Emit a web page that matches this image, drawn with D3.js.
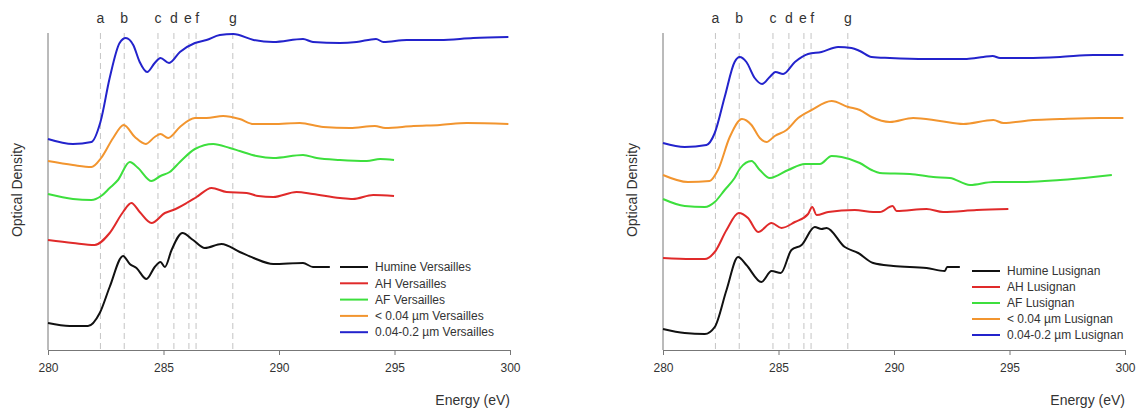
<!DOCTYPE html>
<meta charset="utf-8">
<style>
body { margin: 0; background: #fff; }
svg { display: block; font-family: "Liberation Sans", Arial, sans-serif; }
.axis path, .axis line { stroke: #777; }
.axis text { fill: #333; font-size: 12px; }
.peaks line { stroke: #c4c4c4; stroke-dasharray: 6,4; stroke-width: 1; }
.peaks text { fill: #333; font-size: 14px; text-anchor: middle; }
.curves path { fill: none; stroke-width: 2; stroke-linejoin: round; }
.legend text { fill: #333; font-size: 12px; }
.label { fill: #333; font-size: 14px; }
</style>

<svg id="chart" width="1136" height="410"></svg>

<script src="https://d3js.org/d3.v7.min.js"></script>
<script>
// peak positions (eV) and their letters
var peakLetters = ["a", "b", "c", "d", "e", "f", "g"];
var peakEnergies = [282.27, 283.3, 284.76, 285.45, 286.1, 286.41, 288.0];
var xTicks = [280, 285, 290, 295, 300];

var seriesColors = ["#111111", "#e02a2a", "#3ddf3d", "#f2952f", "#2323cc"];
var versaillesNames = ["Humine Versailles", "AH Versailles", "AF Versailles", "< 0.04 \u00b5m Versailles", "0.04-0.2 \u00b5m Versailles"];
var lusignanNames = ["Humine Lusignan", "AH Lusignan", "AF Lusignan", "< 0.04 \u00b5m Lusignan", "0.04-0.2 \u00b5m Lusignan"];

// [energy eV, optical density (arbitrary, stacked)]
var versHumine = [[280,0.27],[280.94,0.24],[281.73,0.24],[282.24,0.37],[282.67,0.63],[283.25,0.94],[283.54,0.86],
  [283.83,0.82],[284.26,0.71],[284.62,0.83],[284.87,0.88],[285.06,0.83],[285.35,1.0],[285.82,1.17],[286.28,1.1],
  [286.79,1.02],[287.51,1.06],[288.3,0.98],[288.9,0.92],[289.75,0.86],[291.04,0.87],[291.47,0.83],[292.2,0.83]];
var versAH = [[280,1.1],[281.08,1.07],[282.02,1.05],[282.67,1.17],[283.25,1.38],[283.61,1.47],[283.97,1.38],
  [284.48,1.27],[285.06,1.37],[285.42,1.4],[286.0,1.47],[286.43,1.53],[287.08,1.62],[287.73,1.58],[288.6,1.57],
  [289.1,1.54],[289.75,1.53],[290.76,1.58],[291.47,1.56],[292.64,1.52],[293.2,1.51],[294.08,1.55],[294.98,1.54]];
var versAF = [[280,1.56],[281.08,1.51],[281.88,1.5],[282.3,1.54],[282.67,1.62],[283.03,1.7],[283.54,1.88],
  [283.9,1.82],[284.48,1.69],[284.87,1.74],[285.27,1.78],[285.71,1.88],[286.36,2.01],[287.15,2.06],[287.87,2.02],
  [288.3,1.99],[289.03,1.94],[289.75,1.92],[291.04,1.95],[291.63,1.92],[292.64,1.9],[293.8,1.89],[294.38,1.91],[294.98,1.9]];
var versSmall = [[280,1.89],[281.08,1.85],[281.88,1.83],[282.3,1.92],[282.82,2.12],[283.28,2.25],[283.76,2.13],
  [284.23,2.06],[284.62,2.13],[284.87,2.16],[285.2,2.12],[285.71,2.23],[286.36,2.32],[286.86,2.32],[287.58,2.34],
  [288.3,2.31],[288.9,2.26],[289.75,2.26],[290.9,2.27],[291.91,2.23],[293.07,2.22],[294.15,2.24],[294.6,2.22],
  [295.82,2.24],[296.97,2.25],[298.13,2.27],[299.93,2.26]];
var versLarge = [[280,2.11],[281.08,2.06],[281.88,2.08],[282.27,2.28],[282.67,2.72],[283.1,3.07],[283.37,3.12],
  [283.69,3.05],[283.97,2.88],[284.29,2.78],[284.62,2.87],[284.87,2.92],[285.24,2.87],[285.71,2.98],[286.36,3.07],
  [286.86,3.1],[287.44,3.15],[288.02,3.16],[288.9,3.1],[289.75,3.08],[291.04,3.11],[291.47,3.08],[292.64,3.07],
  [293.36,3.08],[294.2,3.11],[294.52,3.08],[295.53,3.1],[296.97,3.1],[298.41,3.12],[299.93,3.13]];

var lusHumine = [[280,0.21],[280.94,0.17],[281.81,0.16],[282.24,0.23],[282.75,0.6],[283.25,0.93],[283.61,0.85],
  [284.26,0.68],[284.7,0.79],[285.1,0.77],[285.56,1.0],[286.0,1.05],[286.57,1.23],[286.86,1.21],[287.08,1.22],
  [287.87,1.03],[288.45,0.97],[289.1,0.87],[289.97,0.84],[291.41,0.82],[292.2,0.79],[292.3,0.83],[292.85,0.83]];
var lusAH = [[280,0.92],[281.23,0.91],[281.81,0.91],[282.24,0.98],[282.75,1.2],[283.28,1.37],[283.68,1.32],
  [284.12,1.18],[284.7,1.27],[285.13,1.22],[285.71,1.28],[286.28,1.36],[286.46,1.43],[286.65,1.35],[287.15,1.38],
  [288.3,1.4],[289.1,1.38],[289.39,1.38],[289.94,1.44],[290.11,1.39],[291.41,1.41],[292.13,1.38],[293.58,1.4],[294.95,1.41]];
var lusAF = [[280,1.51],[280.94,1.44],[281.81,1.43],[282.24,1.48],[282.67,1.6],[283.1,1.72],[283.35,1.82],
  [283.83,1.89],[284.19,1.8],[284.62,1.72],[285.42,1.8],[286.14,1.86],[286.79,1.86],[287.3,1.94],[287.73,1.93],
  [288.52,1.87],[289.03,1.8],[289.39,1.77],[290.69,1.76],[291.7,1.73],[292.42,1.72],[293.29,1.65],[294.3,1.68],
  [295.75,1.68],[297.19,1.7],[298.63,1.73],[299.43,1.75]];
var lusSmall = [[280,1.75],[281.08,1.68],[282.02,1.69],[282.38,1.8],[282.89,2.13],[283.42,2.31],[283.83,2.25],
  [284.19,2.12],[284.48,2.08],[284.84,2.14],[285.35,2.2],[285.85,2.32],[286.43,2.4],[287.3,2.49],[288.02,2.43],
  [288.52,2.4],[289.03,2.33],[289.82,2.28],[290.83,2.32],[291.99,2.29],[293.0,2.26],[294.3,2.3],[294.73,2.27],
  [296.03,2.3],[297.19,2.31],[298.92,2.32],[299.93,2.32]];
var lusLarge = [[280,2.07],[280.94,2.03],[281.88,2.05],[282.24,2.17],[282.67,2.53],[283.1,2.88],[283.32,2.93],
  [283.61,2.88],[283.97,2.72],[284.29,2.66],[284.62,2.73],[284.87,2.78],[285.2,2.76],[285.71,2.88],[286.28,2.96],
  [286.86,2.98],[287.58,3.03],[288.16,3.02],[288.52,2.99],[289.03,2.93],[289.82,2.92],[291.41,2.91],[293.15,2.91],
  [293.87,2.93],[294.27,2.94],[294.59,2.92],[295.75,2.92],[297.19,2.93],[298.63,2.95],[299.93,2.95]];

var svg = d3.select("#chart");

function drawPanel(left, series, names, legendX, legendY, legendStep) {
    var top = 33, bottom = 350, width = 462;

    var x = d3.scaleLinear().domain([280, 300]).range([left, left + width]);
    var y = d3.scaleLinear().domain([0, 3.17]).range([bottom, top]);

    var g = svg.append("g");

    // dashed peak markers
    var peaks = g.append("g").attr("class", "peaks");
    peaks.selectAll("line")
        .data(peakEnergies)
        .enter().append("line")
        .attr("x1", function(d) { return x(d); })
        .attr("x2", function(d) { return x(d); })
        .attr("y1", top)
        .attr("y2", bottom);
    peaks.selectAll("text")
        .data(peakEnergies)
        .enter().append("text")
        .attr("x", function(d, i) { return x(d) + (i == 4 ? -1 : i == 5 ? 1 : 0); })
        .attr("y", 23)
        .text(function(d, i) { return peakLetters[i]; });

    // y axis: plain line, no ticks
    g.append("line")
        .attr("x1", left).attr("x2", left)
        .attr("y1", top).attr("y2", bottom)
        .attr("stroke", "#777");

    g.append("g")
        .attr("class", "axis")
        .attr("transform", "translate(0," + bottom + ")")
        .call(d3.axisBottom(x).tickValues(xTicks).tickSizeOuter(0).tickSize(5).tickPadding(8));

    var line = d3.line()
        .x(function(d) { return x(d[0]); })
        .y(function(d) { return y(d[1]); })
        .curve(d3.curveMonotoneX);

    g.append("g")
        .attr("class", "curves")
        .selectAll("path")
        .data(series)
        .enter().append("path")
        .attr("d", line)
        .attr("stroke", function(d, i) { return seriesColors[i]; });

    var legend = g.append("g").attr("class", "legend")
        .selectAll("g")
        .data(names)
        .enter().append("g")
        .attr("transform", function(d, i) { return "translate(" + legendX + "," + (legendY + i * legendStep) + ")"; });
    legend.append("line")
        .attr("x1", 0).attr("x2", 28)
        .attr("stroke", function(d, i) { return seriesColors[i]; })
        .attr("stroke-width", 2);
    legend.append("text")
        .attr("x", 35)
        .attr("dy", "0.35em")
        .text(function(d) { return d; });

    g.append("text")
        .attr("class", "label")
        .attr("x", left + width)
        .attr("y", 405)
        .attr("text-anchor", "end")
        .text("Energy (eV)");

    g.append("text")
        .attr("class", "label")
        .attr("transform", "translate(" + (left - 26) + ",190) rotate(-90)")
        .attr("text-anchor", "middle")
        .text("Optical Density");
}

drawPanel(48, [versHumine, versAH, versAF, versSmall, versLarge], versaillesNames, 340, 267, 16.3);
drawPanel(663, [lusHumine, lusAH, lusAF, lusSmall, lusLarge], lusignanNames, 972, 271, 16);
</script>
